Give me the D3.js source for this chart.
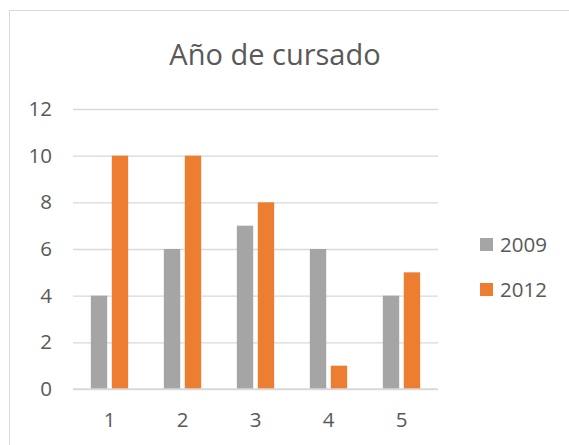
<!DOCTYPE html>
<html>
<head>
<meta charset="utf-8">
<script src="https://cdn.jsdelivr.net/npm/d3@7"></script>
<style>
  html, body { margin: 0; padding: 0; background: #fff; }
  svg { display: block; }
  text { font-family: "Open Sans", "Noto Sans", sans-serif; fill: #595959; }
</style>
</head>
<body>
<div id="chart"></div>
<script>
const title = "Año de cursado";
const categories = ["1", "2", "3", "4", "5"];
const seriesNames = ["2009", "2012"];
const values2009 = [4, 6, 7, 6, 4];
const values2012 = [10, 10, 8, 1, 5];
const yTicks = [0, 2, 4, 6, 8, 10, 12];
const colors = ["#a5a5a5", "#ed7d31"];

const W = 569, H = 445;
const plot = { left: 73, right: 438, top: 109, bottom: 389 };

const svg = d3.select("#chart").append("svg").attr("width", W).attr("height", H);

svg.append("rect").attr("x", 9.5).attr("y", 10.5).attr("width", 700).attr("height", 600)
  .attr("fill", "#fff").attr("stroke", "#d9d9d9").attr("stroke-width", 1);

const x = d3.scaleBand().domain(categories).range([plot.left, plot.right])
  .paddingInner(0.489).paddingOuter(0.2445);
const xs = d3.scaleBand().domain(seriesNames).range([0, x.bandwidth()]).paddingInner(0.22);
const y = d3.scaleLinear().domain([0, 12]).range([plot.bottom, plot.top]);

// gridlines
const yAxis = d3.axisLeft(y).tickValues(yTicks).tickSize(-(plot.right - plot.left)).tickPadding(21).tickFormat(d3.format("d"));
const gy = svg.append("g").attr("transform", `translate(${plot.left},0)`).call(yAxis);
gy.select(".domain").remove();
gy.selectAll(".tick line").attr("stroke", "#d9d9d9").attr("stroke-width", 1.3);
gy.selectAll(".tick text").attr("font-size", 20.5).attr("fill", "#595959")
  .style("font-family", "'Open Sans', sans-serif");

// bars
const data = categories.map((c, i) => ({ cat: c, vals: [values2009[i], values2012[i]] }));
const groups = svg.append("g").selectAll("g").data(data).join("g")
  .attr("transform", d => `translate(${x(d.cat)},0)`);
groups.selectAll("rect").data(d => d.vals.map((v, j) => ({ key: seriesNames[j], v, j })))
  .join("rect")
  .attr("x", d => xs(d.key))
  .attr("width", xs.bandwidth())
  .attr("y", d => y(d.v))
  .attr("height", d => y(0) - y(d.v))
  .attr("fill", d => colors[d.j]);

// baseline
svg.append("line").attr("x1", plot.left).attr("x2", plot.right)
  .attr("y1", y(0)).attr("y2", y(0)).attr("stroke", "#d9d9d9").attr("stroke-width", 1.3);

// x axis labels
const xAxis = d3.axisBottom(x).tickSize(0).tickPadding(23);
const gx = svg.append("g").attr("transform", `translate(0,${plot.bottom})`).call(xAxis);
gx.select(".domain").remove();
gx.selectAll(".tick text").attr("font-size", 20.5).attr("fill", "#595959")
  .style("font-family", "'Open Sans', sans-serif");

// title
svg.append("text").attr("x", 275).attr("y", 65).attr("text-anchor", "middle")
  .attr("font-size", 29).attr("fill", "#595959").text(title);

// legend
const legend = svg.append("g").selectAll("g").data(seriesNames).join("g")
  .attr("transform", (d, i) => `translate(480,${238 + i * 45})`);
legend.append("rect").attr("width", 13).attr("height", 13).attr("fill", (d, i) => colors[i]);
legend.append("text").attr("x", 20).attr("y", 13.5).attr("font-size", 20.5).attr("fill", "#595959").text(d => d);
</script>
</body>
</html>
